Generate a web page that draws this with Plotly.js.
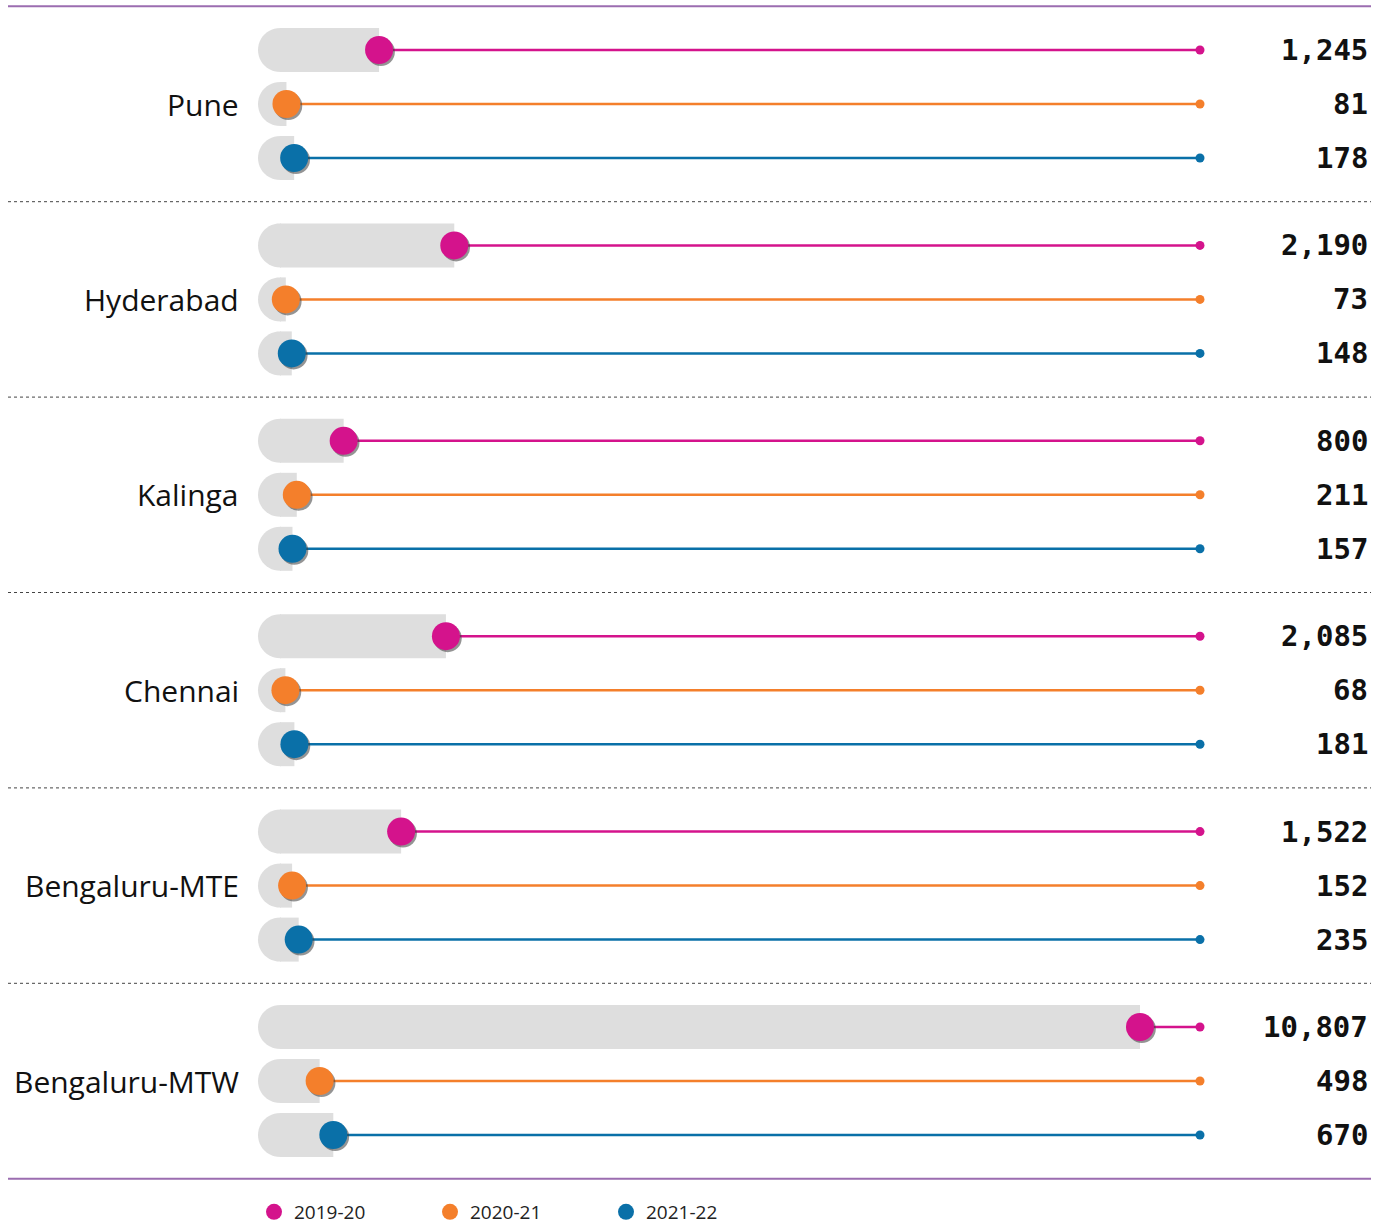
<!DOCTYPE html>
<html>
<head>
<meta charset="utf-8">
<script src="https://cdn.plot.ly/plotly-3.0.1.min.js"></script>
<style>html,body{margin:0;padding:0;background:#fff}#chart{width:1386px;height:1225px}</style>
</head>
<body>
<div id="chart"></div>
<script>
// ---- data ----
const cities = ['Pune', 'Hyderabad', 'Kalinga', 'Chennai', 'Bengaluru-MTE', 'Bengaluru-MTW'];
const seriesNames = ['2019-20', '2020-21', '2021-22'];
const v2019_20 = [1245, 2190, 800, 2085, 1522, 10807];
const v2020_21 = [81, 73, 211, 68, 152, 498];
const v2021_22 = [178, 148, 157, 181, 235, 670];
const seriesColors = ['#D4138C', '#F47F2B', '#0A70A8'];

// ---- layout geometry ----
const W = 1386, H = 1225;
const zeroPx = 280, maxPx = 1140, endPx = 1200;   // pixel anchors
const allVals = [v2019_20, v2020_21, v2021_22];
const maxVal = Math.max(...allVals.flat());
const s = (maxPx - zeroPx) / maxVal;             // px per unit
const xRange = [-zeroPx / s, (W - zeroPx) / s];
const xEnd = (endPx - zeroPx) / s;

const rowPx = 54, firstRowPx = 50, groupPx = 195.4;
const gap = groupPx / rowPx;
const yRange = [(H - firstRowPx) / rowPx, -firstRowPx / rowPx];
const rowY = (g, k) => g * gap + k;

const traces = [];
// gray bars
const barX = [], barY = [];
cities.forEach((c, g) => allVals.forEach((arr, k) => { barX.push(arr[g]); barY.push(rowY(g, k)); }));
traces.push({type: 'bar', orientation: 'h', x: barX, y: barY, base: 0, width: 44 / rowPx,
  marker: {color: '#DEDEDE', line: {width: 0}}, showlegend: false, hoverinfo: 'skip'});

// connector lines + end dots
allVals.forEach((arr, k) => {
  const lx = [], ly = [];
  arr.forEach((v, g) => { lx.push(v, xEnd, null); ly.push(rowY(g, k), rowY(g, k), null); });
  traces.push({type: 'scatter', mode: 'lines', x: lx, y: ly, line: {color: seriesColors[k], width: 2.5},
    showlegend: false, hoverinfo: 'skip'});
  traces.push({type: 'scatter', mode: 'markers', x: arr.map(() => xEnd), y: arr.map((v, g) => rowY(g, k)),
    marker: {color: seriesColors[k], size: 9}, showlegend: false, hoverinfo: 'skip'});
});
// shadows
allVals.forEach((arr, k) => {
  traces.push({type: 'scatter', mode: 'markers', x: arr.map(v => v + 1.8 / s), y: arr.map((v, g) => rowY(g, k) + 2 / rowPx),
    marker: {color: 'rgba(60,60,60,0.55)', size: 28}, showlegend: false, hoverinfo: 'skip'});
});
// main dots
allVals.forEach((arr, k) => {
  traces.push({type: 'scatter', mode: 'markers', name: seriesNames[k], x: arr, y: arr.map((v, g) => rowY(g, k)),
    marker: {color: seriesColors[k], size: 28, line: {width: 0}}, hoverinfo: 'skip'});
});

// shapes: left semicircle caps + separators
const shapes = [];
const semi = [];
for (let i = 0; i <= 24; i++) {
  const a = Math.PI / 2 + Math.PI * i / 24;
  semi.push((22 * Math.cos(a) + (i === 0 || i === 24 ? 1 : 0)).toFixed(2) + ',' + (22 * Math.sin(a)).toFixed(2));
}
const semiPath = 'M' + semi.join(' L') + ' Z';
cities.forEach((c, g) => allVals.forEach((arr, k) => {
  shapes.push({type: 'path', layer: 'below', xref: 'x', yref: 'y', xsizemode: 'pixel', ysizemode: 'pixel',
    xanchor: 0, yanchor: rowY(g, k), path: semiPath, fillcolor: '#DEDEDE', line: {width: 0}});
}));
for (let g = 0; g <= cities.length; g++) {
  const yy = g * gap - (gap - 2) / 2;
  const solid = (g === 0 || g === cities.length);
  shapes.push({type: 'line', layer: 'below', xref: 'paper', yref: 'y', x0: 8 / W, x1: 1371 / W, y0: yy, y1: yy,
    line: solid ? {color: '#9B6DB0', width: 2} : {color: '#444', width: 1, dash: 'dot'}});
}

// annotations: city labels + values
const annotations = [];
cities.forEach((c, g) => {
  annotations.push({xref: 'paper', yref: 'y', x: 241 / W, y: rowY(g, 1), text: c, showarrow: false,
    xanchor: 'right', yanchor: 'middle', font: {family: 'Open Sans', size: 30, color: '#111'}});
  allVals.forEach((arr, k) => {
    annotations.push({xref: 'paper', yref: 'y', x: 1370 / W, y: rowY(g, k), text: arr[g].toLocaleString('en-US'),
      showarrow: false, xanchor: 'right', yanchor: 'middle',
      font: {family: 'DejaVu Sans Mono', size: 29, color: '#111', weight: 'bold'}});
  });
});

const layout = {
  width: W, height: H, margin: {l: 0, r: 0, t: 0, b: 0, autoexpand: false}, paper_bgcolor: '#fff', plot_bgcolor: '#fff',
  xaxis: {range: xRange, visible: false, showgrid: false, zeroline: false, fixedrange: true},
  yaxis: {range: yRange, visible: false, showgrid: false, zeroline: false, fixedrange: true},
  barmode: 'overlay', hovermode: false, shapes: shapes, annotations: annotations,
  showlegend: true,
  legend: {orientation: 'h', x: 254 / W, xanchor: 'left', y: 13 / H, yanchor: 'middle',
    entrywidth: 131, entrywidthmode: 'pixels', bgcolor: 'rgba(0,0,0,0)',
    font: {family: 'Open Sans', size: 19, color: '#222'}}
};
Plotly.newPlot('chart', traces, layout, {displayModeBar: false, staticPlot: true});
</script>
</body>
</html>
